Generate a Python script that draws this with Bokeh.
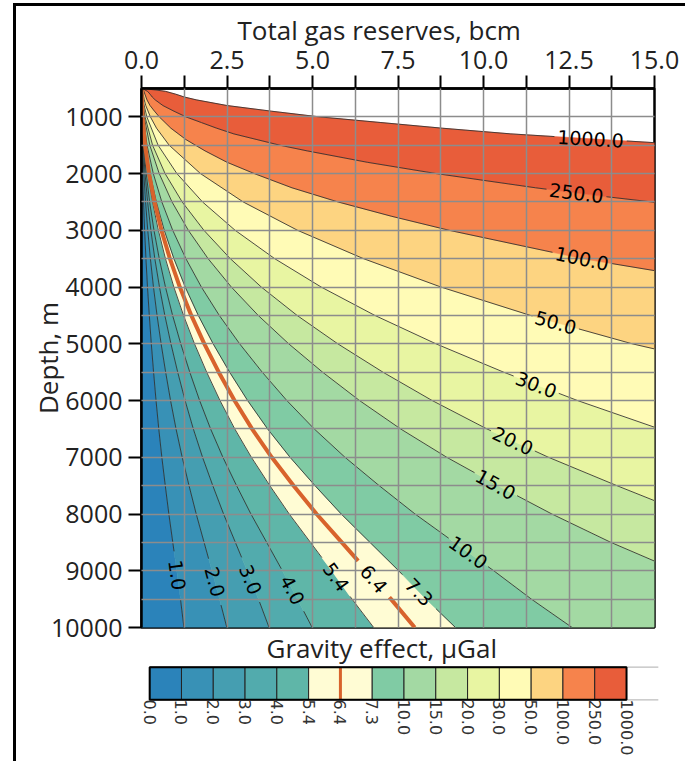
import math
from bokeh.plotting import figure
from bokeh.models import Range1d, FixedTicker, PrintfTickFormatter, Title
from bokeh.layouts import column
from bokeh.embed import file_html
from bokeh.resources import INLINE
from bokeh.core.properties import value

# ---------------- data ----------------
X_MIN, X_MAX = 0.0, 15.0          # total gas reserves, bcm
D_TOP, D_BOT = 500.0, 10000.0     # depth, m

x_ticks = [0.0, 2.5, 5.0, 7.5, 10.0, 12.5, 15.0]
x_minor = [1.25, 3.75, 6.25, 8.75, 11.25, 13.75]
y_ticks = [1000, 2000, 3000, 4000, 5000, 6000, 7000, 8000, 9000, 10000]
y_minor = [500, 1500, 2500, 3500, 4500, 5500, 6500, 7500, 8500, 9500]

levels = [1.0, 2.0, 3.0, 4.0, 5.4, 6.4, 7.3, 10.0, 15.0, 20.0, 30.0, 50.0, 100.0, 250.0, 1000.0]
level_names = ["1.0", "2.0", "3.0", "4.0", "5.4", "6.4", "7.3", "10.0", "15.0",
               "20.0", "30.0", "50.0", "100.0", "250.0", "1000.0"]
cbar_labels = ["0.0"] + level_names
band_colors = ["#2b83ba", "#3891b6", "#459eb1", "#52abad", "#5fb6a8", "#fffcd4", "#fffcd4",
               "#80cba4", "#a3d9a3", "#c6e8a0", "#e8f5a2", "#fffbb6", "#fdd481", "#f6834c", "#e85d3a"]
highlight_level = 6.4
highlight_color = "#d8632c"

# contour lines: depth (m) and reserves (bcm) along each line
depth_lo = [500, 750, 1000, 1500, 2000, 2500, 3000, 3500, 4000, 4500, 5000,
            5500, 6000, 6500, 7000, 7500, 8000, 8500, 9000, 9500, 10000]
x_c1_0 = [0.0, 0.002, 0.005, 0.016, 0.035, 0.060, 0.091, 0.130, 0.175, 0.228, 0.287,
          0.353, 0.425, 0.505, 0.595, 0.695, 0.800, 0.915, 1.030, 1.140, 1.240]
x_c2_0 = [0.0, 0.004, 0.010, 0.032, 0.069, 0.119, 0.183, 0.260, 0.350, 0.455, 0.574,
          0.706, 0.850, 1.010, 1.190, 1.390, 1.600, 1.830, 2.060, 2.280, 2.495]
x_c3_0 = [0.0, 0.006, 0.016, 0.049, 0.104, 0.179, 0.274, 0.390, 0.526, 0.683, 0.861,
          1.059, 1.275, 1.515, 1.785, 2.085, 2.400, 2.745, 3.090, 3.420, 3.730]
x_c4_0 = [0.0, 0.008, 0.021, 0.065, 0.138, 0.238, 0.365, 0.520, 0.701, 0.910, 1.148,
          1.412, 1.700, 2.020, 2.380, 2.780, 3.200, 3.660, 4.120, 4.560, 4.990]
x_c5_4 = [0.0, 0.011, 0.028, 0.087, 0.186, 0.321, 0.493, 0.701, 0.946, 1.229, 1.550,
          1.906, 2.295, 2.727, 3.213, 3.753, 4.320, 4.941, 5.562, 6.156, 6.790]
x_c6_4 = [0.0, 0.013, 0.033, 0.104, 0.221, 0.381, 0.584, 0.831, 1.121, 1.456, 1.837,
          2.259, 2.720, 3.232, 3.808, 4.448, 5.120, 5.856, 6.592, 7.296, 7.990]
x_c7_3 = [0.0, 0.015, 0.038, 0.118, 0.252, 0.434, 0.666, 0.948, 1.279, 1.661, 2.095,
          2.577, 3.103, 3.687, 4.344, 5.074, 5.840, 6.680, 7.519, 8.322, 9.180]
x_c10 = [0.0, 0.020, 0.052, 0.162, 0.345, 0.595, 0.913, 1.299, 1.752, 2.275, 2.870,
         3.530, 4.250, 5.050, 5.950, 6.950, 8.000, 9.150, 10.300, 11.400, 12.590]

d_c15 = [500, 750, 1000, 1500, 2000, 2500, 3000, 3500, 4000, 4500, 5000, 5500,
         6000, 6500, 7000, 7500, 8000, 8500, 8830]
x_c15 = [0.0, 0.030, 0.078, 0.243, 0.518, 0.893, 1.370, 1.949, 2.628, 3.413, 4.305, 5.295,
         6.375, 7.575, 8.925, 10.425, 12.000, 13.725, 15.0]
d_c20 = [500, 750, 1000, 1500, 2000, 2500, 3000, 3500, 4000, 4500, 5000, 5500,
         6000, 6500, 7000, 7500, 7765]
x_c20 = [0.0, 0.040, 0.104, 0.324, 0.690, 1.190, 1.826, 2.598, 3.504, 4.550, 5.740, 7.060,
         8.500, 10.100, 11.900, 13.900, 15.0]
d_c30 = [500, 750, 1000, 1500, 2000, 2500, 3000, 3500, 4000, 4500, 5000, 5500, 6000, 6470]
x_c30 = [0.0, 0.060, 0.156, 0.486, 1.035, 1.785, 2.739, 3.897, 5.256, 6.825, 8.610, 10.590,
         12.750, 15.0]
d_c50 = [500, 600, 700, 800, 1000, 1200, 1500, 2000, 2500, 3000, 3500, 4000, 4500, 5000, 5090]
x_c50 = [0.0, 0.050, 0.080, 0.125, 0.260, 0.440, 0.810, 1.725, 2.975, 4.565, 6.495, 8.760,
         11.375, 14.350, 15.0]
d_c100 = [500, 550, 600, 700, 800, 900, 1000, 1200, 1400, 1600, 1800, 2000, 2250, 2500,
          2750, 3000, 3500, 3710]
x_c100 = [0.0, 0.070, 0.100, 0.160, 0.250, 0.380, 0.520, 0.860, 1.300, 1.860, 2.500, 3.300,
          4.400, 5.750, 7.300, 9.000, 12.900, 15.0]
d_c250 = [500, 525, 550, 600, 650, 700, 800, 900, 1000, 1100, 1200, 1300, 1400, 1500, 1600,
          1800, 2000, 2250, 2400, 2505]
x_c250 = [0.0, 0.100, 0.175, 0.250, 0.313, 0.400, 0.625, 0.950, 1.300, 1.750, 2.200, 2.700,
          3.375, 4.050, 4.850, 6.600, 8.625, 11.525, 13.490, 15.0]
d_c1000 = [500, 525, 550, 600, 650, 700, 800, 900, 1000, 1100, 1200, 1300, 1400, 1455]
x_c1000 = [0.0, 0.400, 0.700, 1.000, 1.250, 1.600, 2.500, 3.800, 5.200, 7.000, 8.800,
           10.800, 13.500, 15.0]

# approximate centres of the inline contour labels
label_x = [0.96, 2.08, 3.13, 4.39, 5.67, 6.81, 8.16, 9.47, 10.29, 10.85, 11.52, 12.11, 12.87, 12.72, 13.13]
label_d = [9083, 9206, 9171, 9347, 9118, 9136, 9347, 8748, 7550, 6721, 5752, 4624, 3531, 2333, 1399]

contours = [
    (depth_lo, x_c1_0), (depth_lo, x_c2_0), (depth_lo, x_c3_0), (depth_lo, x_c4_0),
    (depth_lo, x_c5_4), (depth_lo, x_c6_4), (depth_lo, x_c7_3), (depth_lo, x_c10),
    (d_c15, x_c15), (d_c20, x_c20), (d_c30, x_c30), (d_c50, x_c50),
    (d_c100, x_c100), (d_c250, x_c250), (d_c1000, x_c1000),
]

# ---------------- geometry ----------------
FRAME_W, FRAME_H = 513, 539
SX = FRAME_W / (X_MAX - X_MIN)
SY = FRAME_H / (D_BOT - D_TOP)
TICK_FONT = "Open Sans"
LABEL_FONT_PX = 19


def to_px(x, d):
    return x * SX, d * SY


def snap(xs, ds, lx, ld):
    px, py = to_px(lx, ld)
    best = None
    for i in range(len(xs) - 1):
        ax, ay = to_px(xs[i], ds[i])
        bx, by = to_px(xs[i + 1], ds[i + 1])
        vx, vy = bx - ax, by - ay
        L2 = vx * vx + vy * vy
        t = 0.0 if L2 == 0 else max(0.0, min(1.0, ((px - ax) * vx + (py - ay) * vy) / L2))
        qx, qy = ax + t * vx, ay + t * vy
        dist = (qx - px) ** 2 + (qy - py) ** 2
        if best is None or dist < best[0]:
            best = (dist, qx / SX, qy / SY, math.atan2(vy, vx))
    return best[1], best[2], -best[3]


def clip(xs, ds, cx, cd, r):
    cpx, cpy = to_px(cx, cd)
    pieces, cur = [], []
    for i in range(len(xs) - 1):
        ax, ay = to_px(xs[i], ds[i])
        bx, by = to_px(xs[i + 1], ds[i + 1])
        vx, vy = bx - ax, by - ay
        a = vx * vx + vy * vy
        b = 2 * ((ax - cpx) * vx + (ay - cpy) * vy)
        c = (ax - cpx) ** 2 + (ay - cpy) ** 2 - r * r
        disc = b * b - 4 * a * c
        if a == 0 or disc <= 0:
            t1 = t2 = 2.0
        else:
            s = math.sqrt(disc)
            t1, t2 = (-b - s) / (2 * a), (-b + s) / (2 * a)

        def pt(t):
            return ((ax + t * vx) / SX, (ay + t * vy) / SY)

        if t1 >= 1 or t2 <= 0:
            if not cur:
                cur.append(pt(0))
            cur.append(pt(1))
        else:
            if t1 > 0:
                if not cur:
                    cur.append(pt(0))
                cur.append(pt(t1))
            if cur:
                pieces.append(cur)
                cur = []
            if t2 < 1:
                cur = [pt(t2), pt(1)]
    if cur:
        pieces.append(cur)
    return pieces


# ---------------- main figure ----------------
p = figure(frame_width=FRAME_W, frame_height=FRAME_H,
           x_range=Range1d(X_MIN, X_MAX), y_range=Range1d(D_BOT, D_TOP),
           x_axis_location="above", title_location=None,
           output_backend="svg", toolbar_location=None,
           min_border_left=130, min_border_right=26, min_border_top=82, min_border_bottom=37,
           styles={"margin-left": "-5px"})
p.background_fill_color = "white"
p.border_fill_alpha = 0
p.outline_line_color = "black"
p.outline_line_width = 2.5

# filled bands
band_xs, band_ds = [], []
prev = None
for ds, xs in contours:
    if prev is None:
        bx = [X_MIN] + xs[::-1]
        bd = [D_BOT] + ds[::-1]
    else:
        pds, pxs = prev
        bx, bd = list(pxs), list(pds)
        if pds[-1] >= D_BOT and ds[-1] < D_BOT:
            bx.append(X_MAX)
            bd.append(D_BOT)
        bx += xs[::-1]
        bd += ds[::-1]
    band_xs.append(bx)
    band_ds.append(bd)
    prev = (ds, xs)
p.patches(xs=band_xs, ys=band_ds, fill_color=band_colors, line_color=band_colors, line_width=0.6)

# contour lines with inline label gaps
blk_x, blk_y, hi_x, hi_y = [], [], [], []
lab_x, lab_y, lab_a, lab_t = [], [], [], []
for i, (ds, xs) in enumerate(contours):
    name = level_names[i]
    lx, ly, ang = snap(xs, ds, label_x[i], label_d[i])
    ndig = sum(ch.isdigit() for ch in name)
    w = LABEL_FONT_PX * (0.636 * ndig + 0.318)
    r = max(w / 2 + 3, 24)
    for piece in clip(xs, ds, lx, ly, r):
        px_ = [q[0] for q in piece]
        py_ = [q[1] for q in piece]
        if levels[i] == highlight_level:
            hi_x.append(px_)
            hi_y.append(py_)
        else:
            blk_x.append(px_)
            blk_y.append(py_)
    lab_x.append(lx)
    lab_y.append(ly)
    lab_a.append(ang)
    lab_t.append(name)

p.multi_line(xs=blk_x, ys=blk_y, line_color="#2e2e2e", line_width=1.0, line_alpha=0.85)
p.multi_line(xs=hi_x, ys=hi_y, line_color=highlight_color, line_width=4)

txt = p.text(x=lab_x, y=lab_y, text=lab_t, angle=lab_a, text_align="center",
             text_baseline="middle", text_font=value("DejaVu Sans"),
             text_font_size=value("%dpx" % LABEL_FONT_PX), text_color="#000000")
txt.level = "overlay"

# axes and grid
xt = FixedTicker(ticks=x_ticks, minor_ticks=x_minor)
yt = FixedTicker(ticks=y_ticks, minor_ticks=y_minor)
p.xaxis.ticker = xt
p.yaxis.ticker = yt
p.xgrid.ticker = xt
p.ygrid.ticker = yt
p.xaxis.formatter = PrintfTickFormatter(format="%.1f")
for ax in (p.xaxis[0], p.yaxis[0]):
    ax.axis_line_color = "black"
    ax.axis_line_width = 2.5
    ax.major_tick_line_color = "black"
    ax.major_tick_line_width = 2
    ax.major_tick_out = 13
    ax.major_tick_in = 0
    ax.major_label_text_font = TICK_FONT
    ax.major_label_text_font_size = "25px"
    ax.major_label_text_color = "#222222"
p.xaxis.minor_tick_line_color = "black"
p.xaxis.minor_tick_line_width = 2
p.xaxis.minor_tick_out = 13
p.xaxis.minor_tick_in = 0
p.xaxis.major_label_standoff = 7
p.yaxis.minor_tick_line_color = None
p.yaxis.major_label_standoff = 6
p.yaxis.axis_label = "Depth, m"
p.yaxis.axis_label_text_font = "Open Sans"
p.yaxis.axis_label_text_font_size = "26px"
p.yaxis.axis_label_text_font_style = "normal"
p.yaxis.axis_label_text_color = "#222222"
p.yaxis.axis_label_standoff = -18

for g in (p.xgrid[0], p.ygrid[0]):
    g.grid_line_color = "#8c8c8c"
    g.grid_line_width = 1.5
    g.minor_grid_line_color = "#8c8c8c"
    g.minor_grid_line_width = 1.5
    g.level = "guide"

p.add_layout(Title(text="Total gas reserves, bcm", align="left", offset=96, standoff=0,
                   text_font="Open Sans", text_font_size="26px", text_font_style="normal",
                   text_color="#222222"), "above")
p.add_layout(Title(text="Gravity effect, μGal", align="left", offset=125, standoff=0,
                   text_font="Open Sans", text_font_size="26px", text_font_style="normal",
                   text_color="#222222"), "below")

# ---------------- colour bar figure ----------------
n_box = len(band_colors)
cb = figure(frame_width=515, frame_height=36,
            x_range=Range1d(-0.1, n_box + 1.1), y_range=Range1d(-0.05, 1.05),
            x_axis_location="below", y_axis_location=None, title_location=None,
            output_backend="svg", toolbar_location=None,
            min_border_left=129, min_border_right=25, min_border_top=0, min_border_bottom=61)
cb.outline_line_color = None
cb.grid.visible = False
cb.background_fill_color = "white"
cb.border_fill_alpha = 0

idx = list(range(n_box))
cb.quad(left=idx, right=[i + 1 for i in idx], bottom=0, top=1, fill_color=band_colors,
        line_color="#222222", line_width=1)
cb.segment(x0=[n_box, n_box], y0=[0, 1], x1=[n_box + 1, n_box + 1], y1=[0, 1],
           line_color="#bdbdbd", line_width=1.2)
hi_idx = levels.index(highlight_level) + 1
cb.segment(x0=[hi_idx], y0=[0], x1=[hi_idx], y1=[1], line_color=highlight_color, line_width=3)
cb.quad(left=[0], right=[n_box], bottom=[0], top=[1], fill_color=None,
        line_color="black", line_width=2)

cb.xaxis.ticker = FixedTicker(ticks=list(range(len(cbar_labels))))
cb.xaxis.major_label_overrides = {i: lab for i, lab in enumerate(cbar_labels)}
cb.xaxis.major_label_orientation = -math.pi / 2
cb.xaxis.major_tick_line_color = None
cb.xaxis.minor_tick_line_color = None
cb.xaxis.axis_line_color = None
cb.xaxis.major_label_standoff = -8
cb.xaxis.major_label_text_font = "DejaVu Sans"
cb.xaxis.major_label_text_font_size = "16px"
cb.xaxis.major_label_text_color = "#333333"

layout = column(p, cb, spacing=0,
                styles={"margin-left": "13px", "margin-top": "3px",
                        "border-left": "3px solid black", "border-top": "3px solid black"})
open("out.html", "w").write(file_html(layout, INLINE))
